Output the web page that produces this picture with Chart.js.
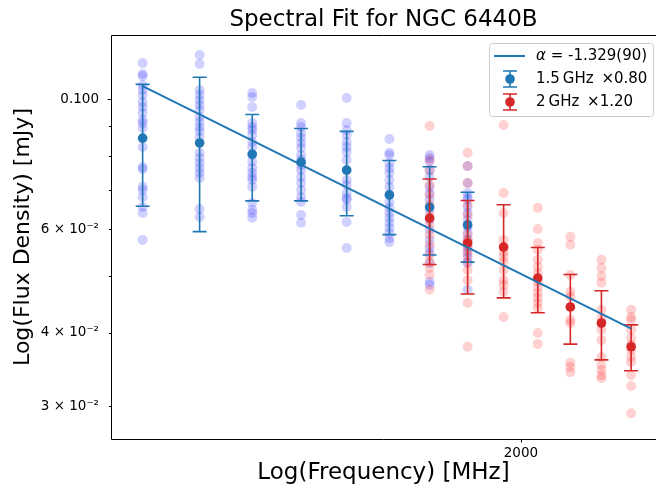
<!DOCTYPE html>
<html>
<head>
<meta charset="utf-8">
<script src="https://cdn.jsdelivr.net/npm/chart.js@4.4.1/dist/chart.umd.min.js"></script>
<style>
  body { margin: 0; background: #fff; }
  #wrap { width: 656px; height: 487px; }
</style>
</head>
<body>
<div id="wrap"><canvas id="plot" width="656" height="487"></canvas></div>
<script>
// 1.5 GHz band (scaled x0.80)
const blueFreq = [1150, 1250, 1350, 1450, 1550, 1650, 1750, 1850];
const blueMean = [0.0858, 0.0842, 0.0806, 0.0781, 0.0757, 0.0687, 0.0655, 0.0611];
const blueErr  = [0.0201, 0.0247, 0.0135, 0.0110, 0.0124, 0.0099, 0.0112, 0.0083];
const blueScatter = [
  [0.1151, 0.1103, 0.1094, 0.1056, 0.1036, 0.1016, 0.0988, 0.0969, 0.0947, 0.0921, 0.0910, 0.0893, 0.0829, 0.0766, 0.0760, 0.0709, 0.0700, 0.0681, 0.0655, 0.0640, 0.0576],
  [0.1188, 0.1147, 0.1036, 0.1016, 0.0996, 0.0977, 0.0958, 0.0932, 0.0914, 0.0896, 0.0882, 0.0862, 0.0810, 0.0794, 0.0778, 0.0763, 0.0749, 0.0734, 0.0650, 0.0630],
  [0.1024, 0.1008, 0.0969, 0.0910, 0.0896, 0.0886, 0.0869, 0.0845, 0.0829, 0.0803, 0.0782, 0.0763, 0.0749, 0.0737, 0.0728, 0.0709, 0.0666, 0.0648, 0.0640, 0.0628],
  [0.0977, 0.0910, 0.0896, 0.0875, 0.0859, 0.0842, 0.0826, 0.0803, 0.0788, 0.0772, 0.0757, 0.0737, 0.0720, 0.0700, 0.0681, 0.0668, 0.0635, 0.0616],
  [0.1004, 0.0910, 0.0886, 0.0869, 0.0845, 0.0829, 0.0813, 0.0788, 0.0757, 0.0728, 0.0714, 0.0692, 0.0679, 0.0674, 0.0655, 0.0618, 0.0558],
  [0.0855, 0.0810, 0.0803, 0.0778, 0.0763, 0.0749, 0.0728, 0.0709, 0.0687, 0.0668, 0.0653, 0.0640, 0.0628, 0.0616, 0.0604, 0.0592, 0.0580, 0.0571],
  [0.0803, 0.0794, 0.0782, 0.0757, 0.0737, 0.0709, 0.0692, 0.0674, 0.0648, 0.0623, 0.0599, 0.0576, 0.0558, 0.0547, 0.0526, 0.0489, 0.0483],
  [0.0769, 0.0720, 0.0692, 0.0681, 0.0674, 0.0655, 0.0640, 0.0623, 0.0606, 0.0592, 0.0576, 0.0560, 0.0549, 0.0537, 0.0526, 0.0474]
];

// 2 GHz band (scaled x1.20)
const redFreq = [1750, 1850, 1950, 2050, 2150, 2250, 2350];
const redMean = [0.0627, 0.0569, 0.0560, 0.0496, 0.0443, 0.0416, 0.0379];
const redErr  = [0.0104, 0.0103, 0.0101, 0.0063, 0.0060, 0.0056, 0.0034];
const redScatter = [
  [0.0900, 0.0788, 0.0757, 0.0714, 0.0687, 0.0661, 0.0635, 0.0611, 0.0587, 0.0565, 0.0543, 0.0528, 0.0516, 0.0502, 0.0474],
  [0.0810, 0.0769, 0.0720, 0.0661, 0.0635, 0.0611, 0.0587, 0.0576, 0.0565, 0.0554, 0.0543, 0.0528, 0.0512, 0.0492, 0.0450, 0.0379],
  [0.0903, 0.0692, 0.0640, 0.0576, 0.0560, 0.0549, 0.0539, 0.0528, 0.0512, 0.0492, 0.0483, 0.0470, 0.0426],
  [0.0653, 0.0601, 0.0569, 0.0554, 0.0533, 0.0518, 0.0506, 0.0489, 0.0479, 0.0468, 0.0459, 0.0450, 0.0441, 0.0400, 0.0383],
  [0.0583, 0.0565, 0.0502, 0.0470, 0.0461, 0.0443, 0.0421, 0.0416, 0.0356, 0.0350, 0.0343],
  [0.0533, 0.0516, 0.0500, 0.0487, 0.0438, 0.0424, 0.0416, 0.0405, 0.0389, 0.0364, 0.0353, 0.0346, 0.0339, 0.0335],
  [0.0438, 0.0426, 0.0421, 0.0405, 0.0392, 0.0382, 0.0374, 0.0364, 0.0357, 0.0339, 0.0325, 0.0292]
];

// power-law fit endpoints
const fitFreq = [1150, 2350];
const fitFlux = [0.1052, 0.0407];

const yTickValues = [0.03, 0.04, 0.05, 0.06, 0.07, 0.08, 0.09, 0.1];
const yTickLabels = { 0.03: '3 × 10⁻²', 0.04: '4 × 10⁻²', 0.06: '6 × 10⁻²', 0.1: '0.100' };
const xTickValues = [2000];

const xTitle = 'Log(Frequency) [MHz]';
const legendLabels = ['α = -1.329(90)', '1.5\u2009GHz \u2009×0.80', '2\u2009GHz \u2009×1.20'];

const BLUE = '#1f77b4';
const RED = '#d62728';
const FONT = "'DejaVu Sans', sans-serif";

function scatterPoints(freqs, lists) {
    let pts = [];
    freqs.forEach((f, i) => lists[i].forEach(v => pts.push({ x: f, y: v })));
    return pts;
}

// error bars, drawn just before the mean markers of a dataset
const errorBars = {
    id: 'errorBars',
    beforeDatasetDraw(chart, args) {
        const ds = chart.data.datasets[args.index];
        if (!ds.errors) return;
        const ctx = chart.ctx;
        const xs = chart.scales.x, ys = chart.scales.y;
        ctx.save();
        ctx.strokeStyle = ds.borderColor;
        ctx.lineWidth = 1.6;
        ds.data.forEach((p, i) => {
            const px = xs.getPixelForValue(p.x);
            const top = ys.getPixelForValue(p.y + ds.errors[i]);
            const bot = ys.getPixelForValue(p.y - ds.errors[i]);
            ctx.beginPath();
            ctx.moveTo(px, top); ctx.lineTo(px, bot);
            ctx.moveTo(px - 7, top); ctx.lineTo(px + 7, top);
            ctx.moveTo(px - 7, bot); ctx.lineTo(px + 7, bot);
            ctx.stroke();
        });
        ctx.restore();
    }
};

const frameAndLegend = {
    id: 'frameAndLegend',
    afterDraw(chart) {
        const ctx = chart.ctx;
        const a = chart.chartArea;
        const xs = chart.scales.x, ys = chart.scales.y;
        const L = Math.round(a.left) + 0.5, B = Math.round(a.bottom) + 0.5, T = Math.round(a.top) + 0.5;
        ctx.save();
        // spines: left, bottom, top (right one is off the picture)
        ctx.strokeStyle = '#000';
        ctx.lineWidth = 1;
        ctx.beginPath();
        ctx.moveTo(a.right, T); ctx.lineTo(L, T); ctx.lineTo(L, B); ctx.lineTo(a.right, B);
        // tick marks (major 0.1 longer than the minor ones)
        yTickValues.forEach(v => {
            const py = Math.round(ys.getPixelForValue(v)) + 0.5;
            ctx.moveTo(L - (v === 0.1 ? 4 : 2.5), py);
            ctx.lineTo(L, py);
        });
        xTickValues.forEach(v => {
            const px = Math.round(xs.getPixelForValue(v)) + 0.5;
            ctx.moveTo(px, B);
            ctx.lineTo(px, B + 3);
        });
        ctx.stroke();

        // x axis title
        ctx.fillStyle = '#000';
        ctx.font = '23px ' + FONT;
        ctx.textAlign = 'center';
        ctx.textBaseline = 'middle';
        ctx.fillText(xTitle, (a.left + a.right) / 2, 473);

        // legend box
        const bx = 489.5, by = 43.5, bw = 164, bh = 73, r = 3;
        ctx.beginPath();
        ctx.roundRect(bx, by, bw, bh, r);
        ctx.fillStyle = 'rgba(255,255,255,0.8)';
        ctx.fill();
        ctx.strokeStyle = '#cccccc';
        ctx.stroke();

        const rows = [56, 79, 102];
        // fit line sample
        ctx.strokeStyle = BLUE;
        ctx.lineWidth = 2;
        ctx.beginPath();
        ctx.moveTo(494, rows[0]); ctx.lineTo(525, rows[0]);
        ctx.stroke();
        // errorbar samples
        [BLUE, RED].forEach((c, k) => {
            const y = rows[k + 1];
            ctx.strokeStyle = c;
            ctx.fillStyle = c;
            ctx.lineWidth = 1.6;
            ctx.beginPath();
            ctx.moveTo(510, y - 8); ctx.lineTo(510, y + 8);
            ctx.moveTo(503, y - 8); ctx.lineTo(517, y - 8);
            ctx.moveTo(503, y + 8); ctx.lineTo(517, y + 8);
            ctx.stroke();
            ctx.beginPath();
            ctx.arc(510, y, 4.8, 0, Math.PI * 2);
            ctx.fill();
        });

        ctx.fillStyle = '#000';
        ctx.textBaseline = 'middle';
        ctx.textAlign = 'left';
        // first label: italic alpha
        ctx.font = 'italic 15px ' + FONT;
        ctx.fillText(legendLabels[0].charAt(0), 536, rows[0]);
        const w = ctx.measureText(legendLabels[0].charAt(0)).width;
        ctx.font = '15px ' + FONT;
        ctx.fillText(legendLabels[0].slice(1), 536 + w, rows[0]);
        ctx.fillText(legendLabels[1], 536, rows[1]);
        ctx.fillText(legendLabels[2], 536, rows[2]);
        ctx.restore();
    }
};

const ctx = document.getElementById('plot').getContext('2d');
new Chart(ctx, {
    type: 'scatter',
    data: {
        datasets: [
            {
                type: 'line',
                label: legendLabels[0],
                data: fitFreq.map((f, i) => ({ x: f, y: fitFlux[i] })),
                borderColor: BLUE,
                borderWidth: 2,
                pointRadius: 0,
                fill: false,
                order: 0
            },
            {
                label: legendLabels[2],
                data: redFreq.map((f, i) => ({ x: f, y: redMean[i] })),
                errors: redErr,
                backgroundColor: RED,
                borderColor: RED,
                borderWidth: 0,
                pointRadius: 4.8,
                order: 1
            },
            {
                label: legendLabels[1],
                data: blueFreq.map((f, i) => ({ x: f, y: blueMean[i] })),
                errors: blueErr,
                backgroundColor: BLUE,
                borderColor: BLUE,
                borderWidth: 0,
                pointRadius: 4.8,
                order: 2
            },
            {
                label: 'red points',
                data: scatterPoints(redFreq, redScatter),
                backgroundColor: 'rgba(255,0,0,0.18)',
                borderWidth: 0,
                pointRadius: 5,
                order: 3
            },
            {
                label: 'blue points',
                data: scatterPoints(blueFreq, blueScatter),
                backgroundColor: 'rgba(0,0,255,0.18)',
                borderWidth: 0,
                pointRadius: 5,
                order: 4
            }
        ]
    },
    options: {
        responsive: false,
        animation: false,
        devicePixelRatio: 1,
        layout: { padding: 0, autoPadding: false },
        plugins: {
            legend: { display: false },
            tooltip: { enabled: false },
            title: {
                display: true,
                text: 'Spectral Fit for NGC 6440B',
                fullSize: false,
                color: '#000',
                font: { family: FONT, size: 23, weight: 'normal' },
                padding: { top: 6, bottom: 1.4 }
            }
        },
        scales: {
            x: {
                type: 'logarithmic',
                position: 'bottom',
                min: 1098,
                max: 2437,
                afterFit: s => { s.height = 48; },
                afterBuildTicks: s => { s.ticks = xTickValues.map(v => ({ value: v })); },
                ticks: {
                    autoSkip: false,
                    maxRotation: 0,
                    padding: 6,
                    color: '#000',
                    font: { family: FONT, size: 13.5 },
                    callback: v => String(v)
                },
                grid: { display: false, drawTicks: false, tickLength: 0 },
                border: { display: false },
                title: { display: false }
            },
            y: {
                type: 'logarithmic',
                min: 0.02641,
                max: 0.1285,
                afterFit: s => { s.width = 111; },
                afterBuildTicks: s => { s.ticks = yTickValues.map(v => ({ value: v })); },
                ticks: {
                    autoSkip: false,
                    padding: 12,
                    color: '#000',
                    font: { family: FONT, size: 13.5 },
                    callback: v => yTickLabels[v] || ''
                },
                grid: { display: false, drawTicks: false, tickLength: 0 },
                border: { display: false },
                title: {
                    display: true,
                    text: 'Log(Flux Density) [mJy]',
                    color: '#000',
                    font: { family: FONT, size: 22 },
                    padding: { top: 10, bottom: 0 }
                }
            }
        }
    },
    plugins: [errorBars, frameAndLegend]
});
</script>
</body>
</html>
